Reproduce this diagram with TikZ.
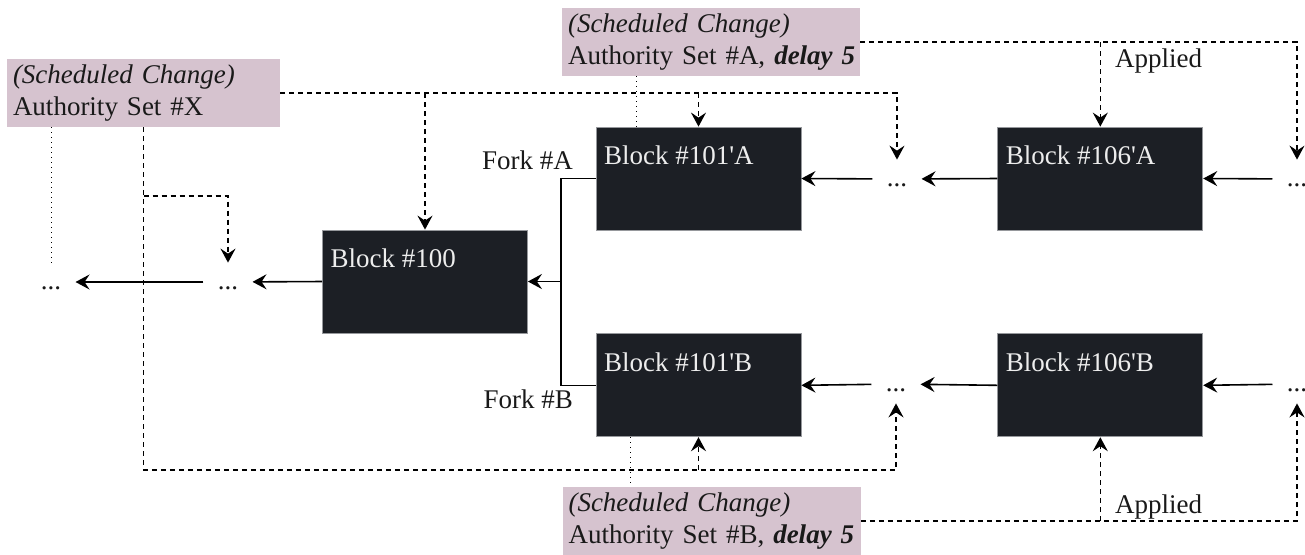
\documentclass[tikz,border=0pt]{standalone}
\usepackage{fontspec}
\setmainfont{Liberation Serif}
\usepackage{tikz}
\usetikzlibrary{positioning,arrows.meta}
\definecolor{blockfill}{RGB}{28,31,37}
\definecolor{blockline}{RGB}{150,152,156}
\definecolor{schedpink}{RGB}{214,195,207}
\definecolor{ink}{RGB}{25,25,25}

\begin{document}
\begin{tikzpicture}[
    x = 0.5pt, y = -0.5pt,
    >= {Stealth[length=7pt, width=7.5pt, inset=2.5pt]},
    every node/.style = {font=\fontsize{13.5}{16.2}\selectfont, text=ink},
    block/.style = {draw=blockline, fill=blockfill, line width=0.4pt,
        minimum width=102.5pt, minimum height=51.5pt, inner sep=0pt},
    blocklabel/.style = {anchor=north west, text=white!93!black,
        inner xsep=4pt, inner ysep=9.5pt},
    sched/.style = {fill=schedpink, minimum height=34pt, text width=#1,
        align=left, inner xsep=3pt, inner ysep=0pt},
    dots/.style = {text height=7pt, text depth=0pt, inner xsep=7pt, inner ysep=6pt},
    link/.style = {line width=0.8pt, ->},
    chg/.style = {line width=0.75pt, dash pattern=on 2.5pt off 2pt},
    note/.style = {line width=0.5pt, dotted}
    ]
    \useasboundingbox (0,0) rectangle (1305,554);

    % blocks
    \node[block, label={[blocklabel]north west:Block \#100}] (b100) at (425,281.5) {};
    \node[block, label={[blocklabel]north west:Block \#101\textquotesingle A}] (b101a) at (698.5,178.5) {};
    \node[block, below=51.5pt of b101a, label={[blocklabel]north west:Block \#101\textquotesingle B}] (b101b) {};
    \node[block, right=98pt of b101a, label={[blocklabel]north west:Block \#106\textquotesingle A}] (b106a) {};
    \node[block, right=98pt of b101b, label={[blocklabel]north west:Block \#106\textquotesingle B}] (b106b) {};

    % elided blocks
    \node[dots] (d100l) at (51,282) {...};
    \node[dots] (d100r) at (228,282) {...};
    \node[dots] (dA1) at (897,179) {...};
    \node[dots] (dA2) at (1297,179) {...};
    \node[dots] (dB1) at (896,384) {...};
    \node[dots] (dB2) at (1297,384) {...};

    % scheduled changes
    \node[sched=130.5pt] (sX) at (143.5,93) {\textit{(Scheduled Change)}\\Authority Set \#X};
    \node[sched=143pt] (sA) at (711,42) {\textit{(Scheduled Change)}\\\mbox{Authority Set \#A, \textbf{\textit{delay 5}}}};
    \node[sched=143pt] (sB) at (711.5,521) {\textit{(Scheduled Change)}\\\mbox{Authority Set \#B, \textbf{\textit{delay 5}}}};

    \node[anchor=base east] (forka) at (580,169) {Fork \#A};
    \node[anchor=base east] (forkb) at (580,408) {Fork \#B};
    \node[anchor=base west] (appa) at (1108,67) {Applied};
    \node[anchor=base west] (appb) at (1108,513) {Applied};

    % chain
    \coordinate[right=16.5pt of b100.east] (fork);
    \draw[line width=0.8pt] (b101a.west) -| (fork) |- (b101b.west);
    \draw[link] (fork) -- (b100.east);
    \draw[link] (b100.west) -- (d100r);
    \draw[link] (d100r) -- (d100l);
    \draw[link] (dA1) -- (b101a.east);
    \draw[link] (b106a.west) -- (dA1);
    \draw[link] (dA2) -- (b106a.east);
    \draw[link] (dB1) -- (b101b.east);
    \draw[link] (b106b.west) -- (dB1);
    \draw[link] (dB2) -- (b106b.east);

    % set X
    \coordinate (midrail) at (0,196);
    \coordinate (lowrail) at (0,470);
    \draw[chg,->] (sX.east) -| (dA1.north);
    \draw[chg,->] (b100.north |- sX.east) -- (b100.north);
    \draw[chg,->] (b101a.north |- sX.east) -- (b101a.north);
    \draw[chg,->] (sX.south) |- (lowrail -| dB1.south) -- (dB1.south);
    \draw[chg,->] (lowrail -| b101b.south) -- (b101b.south);
    \draw[chg,->] (sX.south |- midrail) -| (d100r.north);
    \draw[note] (d100l.north |- sX.south) -- (d100l.north);

    % set A
    \draw[chg,->] (sA.east) -| (dA2.north);
    \draw[chg,->] (b106a.north |- sA.east) -- (b106a.north);
    \path ([xshift=-31pt]b101a.north) coordinate (tapA);
    \draw[note] (tapA) -- (tapA |- sA.south);

    % set B
    \draw[chg,->] (sB.east) -| (dB2.south);
    \draw[chg,->] (b106b.south |- sB.east) -- (b106b.south);
    \path ([xshift=-34pt]b101b.south) coordinate (tapB);
    \draw[note] (tapB) -- (tapB |- sB.north);
\end{tikzpicture}
\end{document}
